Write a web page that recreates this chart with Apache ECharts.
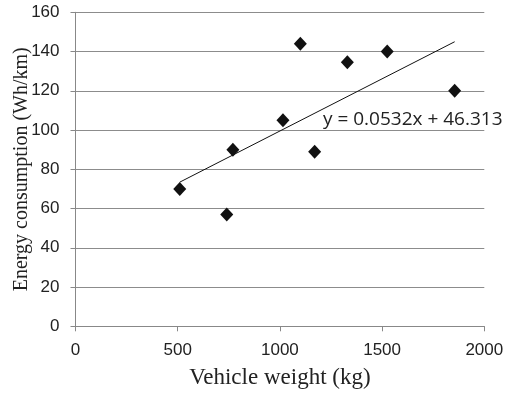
<!DOCTYPE html>
<html lang="en">
<head>
    <meta charset="UTF-8">
    <title>Energy consumption vs vehicle weight</title>
    <script src="https://cdn.jsdelivr.net/npm/echarts@6/dist/echarts.min.js"></script>
    <style>
        html, body { margin: 0; padding: 0; background: #fff; }
    </style>
</head>
<body>
    <div id="chart" style="width: 505px; height: 395px;"></div>
    <script>
        // vehicle weight (kg) and energy consumption (Wh/km)
        var weights = [510, 740, 770, 1015, 1100, 1170, 1330, 1525, 1855]
        var energy = [70, 57, 90, 105, 144, 89, 134.5, 140, 120]
        // linear trendline shown on the chart
        var slope = 0.0532
        var intercept = 46.313
        var trendX = [510, 1855]
        var xTicks = [0, 500, 1000, 1500, 2000]
        var yTicks = [0, 20, 40, 60, 80, 100, 120, 140, 160]

        var points = weights.map(function(w, i) { return [w, energy[i]] })
        var trend = trendX.map(function(x) { return [x, slope * x + intercept] })

        var chart = echarts.init(document.getElementById('chart'))
        var option = {
            backgroundColor: '#fff',
            animation: false,
            grid: { left: 75.5, right: 20.7, top: 12.3, bottom: 68.7, containLabel: false, outerBoundsMode: 'none' },
            xAxis: {
                type: 'value',
                min: xTicks[0],
                max: xTicks[xTicks.length - 1],
                interval: 500,
                name: 'Vehicle weight (kg)',
                nameLocation: 'middle',
                nameGap: 40,
                nameMoveOverlap: false,
                nameTextStyle: { fontFamily: 'Liberation Serif', fontSize: 23, color: '#222' },
                axisLine: { lineStyle: { color: '#888', width: 1 } },
                axisTick: { show: true, inside: false, length: 5, lineStyle: { color: '#888' } },
                axisLabel: {
                    fontFamily: 'Liberation Sans', fontSize: 17, color: '#222', margin: 16,
                    formatter: function(v) { return String(v) }
                },
                splitLine: { show: false }
            },
            yAxis: {
                type: 'value',
                min: yTicks[0],
                max: yTicks[yTicks.length - 1],
                interval: 20,
                name: 'Energy consumption (Wh/km)',
                nameLocation: 'middle',
                nameGap: 44,
                nameMoveOverlap: false,
                nameTextStyle: { fontFamily: 'Liberation Serif', fontSize: 20, color: '#222' },
                axisLine: { show: true, lineStyle: { color: '#888', width: 1 } },
                axisTick: { show: true, length: 5, lineStyle: { color: '#888' } },
                axisLabel: { fontFamily: 'Liberation Sans', fontSize: 17, color: '#222', margin: 16 },
                splitLine: { show: true, lineStyle: { color: '#8c8c8c', width: 1 } }
            },
            graphic: [{
                type: 'text',
                left: 323,
                top: 110,
                style: {
                    text: 'y = 0.0532x + 46.313',
                    font: '19px "Open Sans"',
                    fill: '#222'
                }
            }],
            series: [{
                name: 'trend',
                type: 'line',
                data: trend,
                symbol: 'none',
                lineStyle: { color: '#111', width: 1 },
                z: 2
            }, {
                name: 'data',
                type: 'scatter',
                data: points,
                symbol: 'diamond',
                symbolSize: [13, 14],
                itemStyle: { color: '#111', opacity: 1 },
                z: 3
            }]
        }
        chart.setOption(option)
    </script>
</body>
</html>
